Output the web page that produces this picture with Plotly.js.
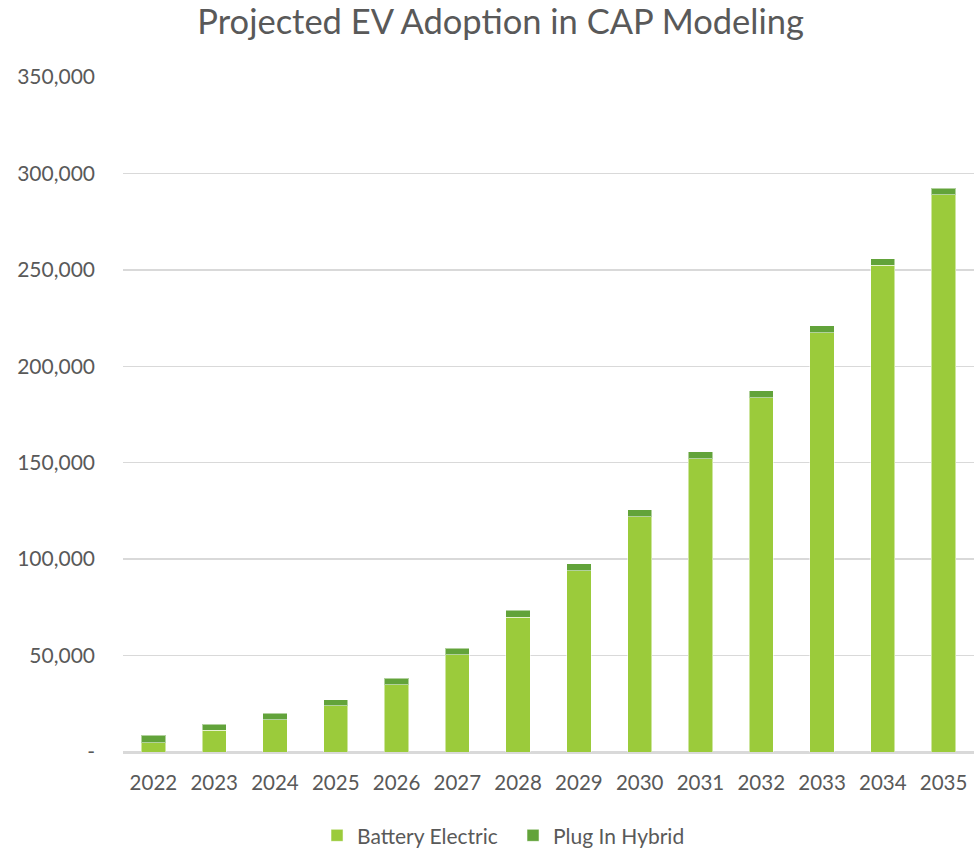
<!DOCTYPE html>
<html>
<head>
<meta charset="utf-8">
<script src="https://cdn.plot.ly/plotly-3.0.1.min.js"></script>
<style>html,body{margin:0;padding:0;background:#fff;}#chart{width:974px;height:851px;}</style>
</head>
<body>
<div id="chart"></div>
<script>
const years = ["2022","2023","2024","2025","2026","2027","2028","2029","2030","2031","2032","2033","2034","2035"];
const batteryElectric = [4700, 11300, 16800, 23900, 34800, 50300, 70000, 94000, 121900, 152000, 183600, 217300, 252300, 288900];
const plugInHybrid = [4000, 3100, 3300, 3100, 3400, 3500, 3600, 3500, 3600, 3600, 3600, 3700, 3500, 3500];
const yTickVals = [0, 50000, 100000, 150000, 200000, 250000, 300000, 350000];
const yTickText = ["-", "50,000", "100,000", "150,000", "200,000", "250,000", "300,000", "350,000"];

const fontFam = "Lato, 'Open Sans', sans-serif";
const traces = [
  {type: "bar", name: "Battery Electric", x: years, y: batteryElectric,
   marker: {color: "#9BCB3B", line: {color: "rgba(255,255,255,0.5)", width: 1}}},
  {type: "bar", name: "Plug In Hybrid", x: years, y: plugInHybrid,
   marker: {color: "#62A33A", line: {color: "rgba(255,255,255,0.5)", width: 1}}}
];
const layout = {
  width: 974, height: 851,
  margin: {l: 123, r: 0, t: 77, b: 99, autoexpand: false},
  barmode: "stack", bargap: 0.6,
  paper_bgcolor: "#fff", plot_bgcolor: "#fff",
  font: {family: fontFam, color: "#595959"},
  title: {text: "Projected EV Adoption in CAP Modeling", font: {size: 34.5, color: "#595959", family: fontFam},
          x: 0.514, xanchor: "center", y: 0.974, yanchor: "middle"},
  xaxis: {type: "category", tickfont: {size: 20.5, color: "#595959"}, ticks: "", showgrid: false,
          showline: true, linecolor: "#D9D9D9", linewidth: 1.5, ticklabelstandoff: 12},
  yaxis: {range: [0, 350000], tickvals: yTickVals, ticktext: yTickText, tickfont: {size: 21, color: "#595959"},
          showgrid: true, gridcolor: "#D9D9D9", gridwidth: 1.5, zeroline: true, zerolinecolor: "#D9D9D9", zerolinewidth: 1.5,
          ticks: "", ticklabelstandoff: 27, showline: false},
  showlegend: true,
  legend: {orientation: "h", x: 0.228, xanchor: "left", y: -0.124, yanchor: "middle",
           font: {size: 21, color: "#595959"}, traceorder: "normal", itemwidth: 30,
           entrywidth: 151, entrywidthmode: "pixels"}
};
Plotly.newPlot("chart", traces, layout, {displayModeBar: false, staticPlot: true});
</script>
</body>
</html>
